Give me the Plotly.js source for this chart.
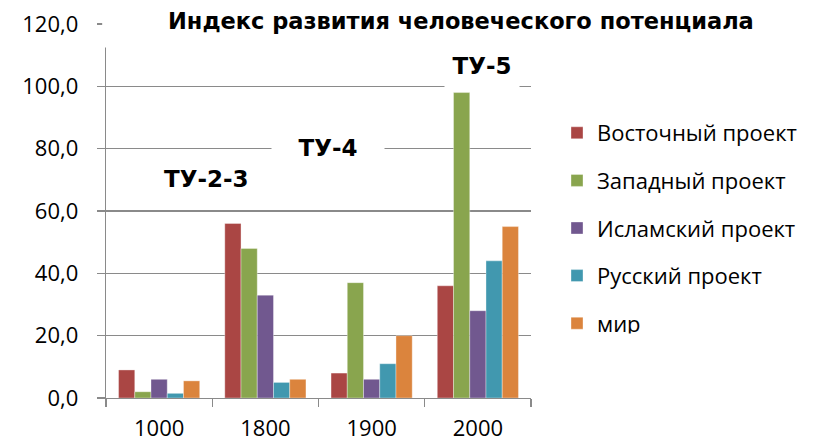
<!DOCTYPE html>
<html>
<head>
<meta charset="utf-8">
<script src="https://cdn.plot.ly/plotly-3.0.1.min.js"></script>
<style>html,body{margin:0;padding:0;background:#fff;}#chart{width:817px;height:443px;}</style>
</head>
<body>
<div id="chart"></div>
<script>
// ---- data ----
var years = ['1000', '1800', '1900', '2000'];
var seriesNames = ['Восточный проект', 'Западный проект', 'Исламский проект', 'Русский проект', 'мир'];
var eastern = [9, 56, 8, 36];
var western = [2, 48, 37, 98];
var islamic = [6, 33, 6, 28];
var russian = [1.5, 5, 11, 44];
var world = [5.5, 6, 20, 55];
var chartTitle = 'Индекс развития человеческого потенциала';
var stageLabels = ['ТУ-2-3', 'ТУ-4', 'ТУ-5'];

var colors = ['#AA4644', '#89A54E', '#71588F', '#4198AF', '#DB843D'];
var allValues = [eastern, western, islamic, russian, world];

var traces = allValues.map(function (vals, i) {
  return {
    type: 'bar',
    name: seriesNames[i],
    x: years,
    y: vals,
    legendgroup: 'g' + i,
    marker: {color: colors[i], line: {width: 0.5, color: 'rgba(255,255,255,0.7)'}},
    hoverinfo: 'skip'
  };
});

var gridCol = '#8A8A8A';
var layout = {
  width: 817, height: 443,
  margin: {l: 106, r: 286, t: 24, b: 45, pad: 0, autoexpand: false},
  paper_bgcolor: '#fff', plot_bgcolor: '#fff',
  separators: ', ',
  barmode: 'group', bargap: 0.236, bargroupgap: 0,
  font: {family: 'Open Sans, sans-serif', size: 22, color: '#000'},
  xaxis: {
    type: 'category', range: [-0.5, 3.5],
    tickson: 'boundaries', ticks: 'outside', ticklen: 8, tickcolor: gridCol, tickwidth: 1.3,
    showline: true, linecolor: gridCol, linewidth: 1.3,
    showgrid: false, zeroline: false,
    ticklabelstandoff: 10,
    tickfont: {family: 'Open Sans, sans-serif', size: 22, color: '#000'}
  },
  yaxis: {
    range: [0, 120], dtick: 20, tick0: 0, tickformat: '.1f',
    ticks: 'outside', ticklen: 8, tickcolor: gridCol, tickwidth: 1.3,
    showline: true, linecolor: gridCol, linewidth: 1.3,
    showgrid: true, gridcolor: gridCol, gridwidth: 1.3, zeroline: false,
    ticklabelstandoff: 14,
    tickfont: {family: 'Open Sans, sans-serif', size: 22, color: '#000'}
  },
  legend: {
    xref: 'container', yref: 'container',
    x: 557 / 817, xanchor: 'left', y: 1 - 112 / 443, yanchor: 'top',
    traceorder: 'grouped', tracegroupgap: 16,
    font: {family: 'Open Sans, sans-serif', size: 22, color: '#000'},
    bgcolor: 'rgba(0,0,0,0)', itemclick: false
  },
  shapes: [
    {type: 'rect', xref: 'paper', yref: 'paper', x0: -0.009, x1: 1.06, y0: 0.937, y1: 1.1,
     fillcolor: '#fff', line: {width: 0}, layer: 'above'}
  ],
  annotations: [
    {text: chartTitle, xref: 'paper', yref: 'paper', x: 0.835, y: 1.008, xanchor: 'center', yanchor: 'middle',
     showarrow: false, font: {family: 'DejaVu Sans, sans-serif', size: 22.5, weight: 'bold', color: '#000'}},
    {text: stageLabels[0], xref: 'paper', yref: 'y', x: 0.2376, y: 70.3, xanchor: 'center', yanchor: 'middle',
     showarrow: false, bgcolor: '#fff', font: {family: 'DejaVu Sans, sans-serif', size: 23, weight: 'bold', color: '#000'}},
    {text: stageLabels[1], xref: 'paper', yref: 'y', x: 0.522, y: 80.2, xanchor: 'center', yanchor: 'middle',
     showarrow: false, bgcolor: '#fff', width: 110, height: 24, borderpad: 1,
     font: {family: 'DejaVu Sans, sans-serif', size: 23, weight: 'bold', color: '#000'}},
    {text: stageLabels[2], xref: 'paper', yref: 'y', x: 0.885, y: 106.5, xanchor: 'center', yanchor: 'middle',
     showarrow: false, bgcolor: '#fff', width: 72, height: 44, borderpad: 1,
     font: {family: 'DejaVu Sans, sans-serif', size: 23, weight: 'bold', color: '#000'}}
  ]
};

Plotly.newPlot('chart', traces, layout, {displayModeBar: false, staticPlot: true});
</script>
</body>
</html>
